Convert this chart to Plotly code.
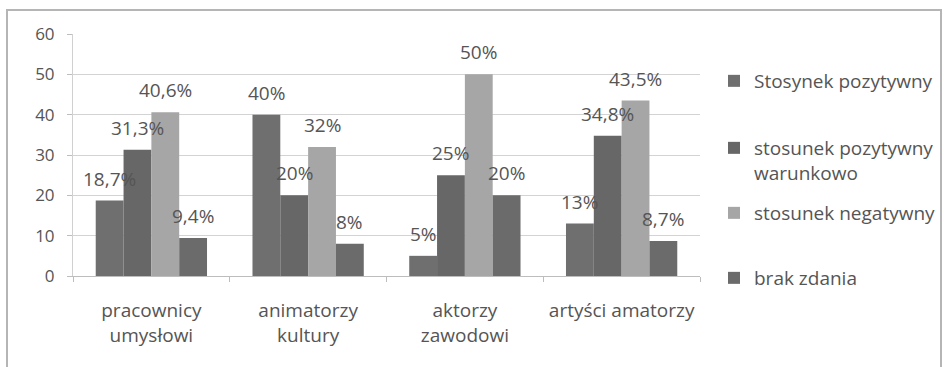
import plotly.graph_objects as go

categories = ["pracownicy<br>umysłowi", "animatorzy<br>kultury", "aktorzy<br>zawodowi", "artyści amatorzy"]
series_names = ["Stosynek pozytywny", "stosunek pozytywny<br>warunkowo", "stosunek negatywny", "brak zdania"]
pozytywny = [18.7, 40, 5, 13]
warunkowo = [31.3, 20, 25, 34.8]
negatywny = [40.6, 32, 50, 43.5]
brak_zdania = [9.4, 8, 20, 8.7]
value_labels = [
    ["18,7%", "40%", "5%", "13%"],
    ["31,3%", "20%", "25%", "34,8%"],
    ["40,6%", "32%", "50%", "43,5%"],
    ["9,4%", "8%", "20%", "8,7%"],
]

series = [pozytywny, warunkowo, negatywny, brak_zdania]
colors = ["#6f6f6f", "#676767", "#a6a6a6", "#6b6b6b"]
FONT = "Open Sans"
TXT = "#555555"
FS = 19

W, H = 944, 367
L, R, T, B = 73, 244, 34, 91
plot_h = H - T - B

def py(pix):
    return (H - B - pix) / plot_h

def px(pix):
    return (pix - L) / (W - L - R)

bargap = 0.29
bar_w = (1 - bargap) / 4

fig = go.Figure()
legend_y = [79, 146, 211, 276]
for j, (name, vals, col) in enumerate(zip(series_names, series, colors)):
    lg = "legend" if j == 0 else f"legend{j + 1}"
    fig.add_trace(go.Bar(
        x=categories, y=vals, name=name, marker_color=col,
        marker_line_width=0, legend=lg,
    ))

annotations = []
for j, vals in enumerate(series):
    off = (j - 1.5) * bar_w
    for i, v in enumerate(vals):
        annotations.append(dict(
            x=i + off, y=v, xref="x", yref="y", text=value_labels[j][i],
            showarrow=False, yanchor="bottom", yshift=7,
            font=dict(family=FONT, size=FS, color=TXT),
        ))

legend_kw = dict(
    font=dict(family=FONT, size=FS, color=TXT), bgcolor="rgba(0,0,0,0)",
    x=px(714), xanchor="left", itemclick=False, valign="top",
)
layout_legends = {}
for j, yc in enumerate(legend_y):
    key = "legend" if j == 0 else f"legend{j + 1}"
    layout_legends[key] = dict(legend_kw, y=py(yc - 17), yanchor="top")

fig.update_layout(
    width=W, height=H,
    margin=dict(l=L, r=R, t=T, b=B, autoexpand=False),
    paper_bgcolor="white", plot_bgcolor="white",
    barmode="group", bargap=bargap, bargroupgap=0,
    font=dict(family=FONT, size=FS, color=TXT),
    showlegend=True,
    annotations=annotations,
    xaxis=dict(
        showline=True, linecolor="#bdbdbd", linewidth=1,
        ticks="outside", tickson="boundaries", ticklen=5, tickcolor="#bdbdbd",
        tickfont=dict(family=FONT, size=FS, color=TXT),
        tickangle=0, automargin=False,
        ticklabelstandoff=17,
        showgrid=False,
    ),
    yaxis=dict(
        range=[0, 60], dtick=10, showline=True, linecolor="#d0d0d0",
        ticks="outside", ticklen=5, tickcolor="#bdbdbd",
        gridcolor="#d3d3d3", gridwidth=1, zeroline=False,
        tickfont=dict(family=FONT, size=17, color=TXT),
        ticklabelstandoff=9, automargin=False,
    ),
    shapes=[dict(
        type="rect", xref="paper", yref="paper",
        x0=px(7), x1=px(941), y0=py(372), y1=py(10),
        line=dict(color="#b5b5b5", width=2), fillcolor="rgba(0,0,0,0)", layer="below",
    )],
    **layout_legends,
)

fig.write_html("out.html")
